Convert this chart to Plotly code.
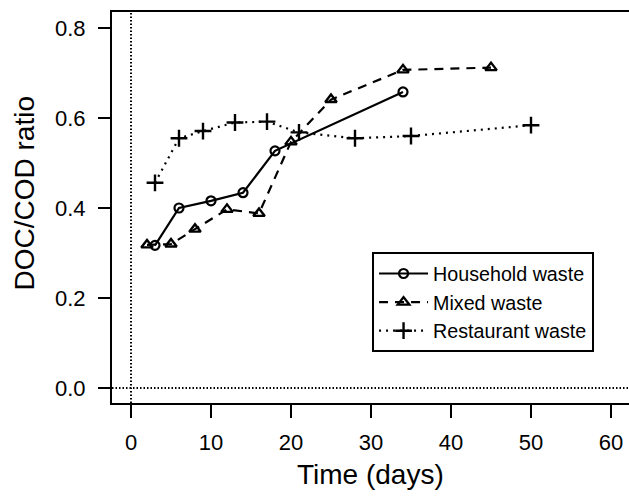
import plotly.graph_objects as go

# Data
house_days = [3, 6, 10, 14, 18, 34]
house_ratio = [0.317, 0.400, 0.416, 0.434, 0.527, 0.658]

mixed_days = [2, 5, 8, 12, 16, 20, 25, 34, 45]
mixed_ratio = [0.318, 0.320, 0.353, 0.397, 0.388, 0.547, 0.641, 0.707, 0.712]

rest_days = [3, 6, 9, 13, 17, 21, 28, 35, 50]
rest_ratio = [0.456, 0.555, 0.571, 0.590, 0.592, 0.568, 0.555, 0.560, 0.584]

x_ticks = [0, 10, 20, 30, 40, 50, 60]
y_ticks = [0.0, 0.2, 0.4, 0.6, 0.8]
y_ticklabels = ["0.0", "0.2", "0.4", "0.6", "0.8"]

FONT = "Liberation Sans, Arial, sans-serif"

fig = go.Figure()

fig.add_trace(go.Scatter(
    x=house_days, y=house_ratio, mode="lines+markers", name="Household waste",
    line=dict(color="black", width=2.2, dash="solid"),
    marker=dict(symbol="circle-open", size=9, color="black", line=dict(width=2.2)),
))
fig.add_trace(go.Scatter(
    x=mixed_days, y=mixed_ratio, mode="lines+markers", name="Mixed waste",
    line=dict(color="black", width=2.2, dash="9px,7px"),
    marker=dict(symbol="triangle-up-open", size=10, color="black", line=dict(width=2.4)),
))
fig.add_trace(go.Scatter(
    x=rest_days, y=rest_ratio, mode="lines+markers", name="Restaurant waste",
    line=dict(color="black", width=2.2, dash="2px,5px"),
    marker=dict(symbol="cross-thin-open", size=12, color="black", line=dict(width=2.4)),
))

# dotted reference lines at x=0 and y=0
fig.add_shape(type="line", xref="x", yref="y domain", x0=0, x1=0, y0=0, y1=1,
              line=dict(color="black", width=2, dash="1.5px,2px"), layer="below")
fig.add_shape(type="line", xref="x domain", yref="y", x0=0, x1=1, y0=0, y1=0,
              line=dict(color="black", width=2, dash="1.5px,2px"), layer="below")

fig.update_layout(
    width=629, height=498,
    margin=dict(l=112, r=0, t=12, b=95),
    paper_bgcolor="white", plot_bgcolor="white",
    font=dict(family=FONT, color="black"),
    showlegend=True,
    legend=dict(
        x=0.503, y=0.3857, xanchor="left", yanchor="top",
        bgcolor="white", bordercolor="black", borderwidth=2,
        font=dict(size=19.7, family=FONT, color="black"),
        itemwidth=49, tracegroupgap=0,
    ),
)

fig.update_xaxes(
    range=[-2.375, 62.25], tickvals=x_ticks,
    ticks="outside", ticklen=13, tickwidth=2, tickcolor="black",
    tickfont=dict(size=22, family=FONT, color="black"),
    ticklabelstandoff=6,
    showline=True, linecolor="black", linewidth=2, mirror=True,
    showgrid=False, zeroline=False,
)
fig.update_yaxes(
    range=[-0.0333, 0.8356], tickvals=y_ticks, ticktext=y_ticklabels,
    ticks="outside", ticklen=12, tickwidth=2, tickcolor="black",
    tickfont=dict(size=22, family=FONT, color="black"),
    ticklabelstandoff=8,
    showline=True, linecolor="black", linewidth=2, mirror=False,
    showgrid=False, zeroline=False,
)

fig.add_annotation(text="Time (days)", xref="paper", yref="paper",
                   x=0.5, y=-0.184, xanchor="center", yanchor="middle",
                   showarrow=False, font=dict(size=28, family=FONT, color="black"))
fig.add_annotation(text="DOC/COD ratio", xref="paper", yref="paper",
                   x=(25 - 112) / 517, y=0.5358, xanchor="center", yanchor="middle",
                   textangle=-90, showarrow=False,
                   font=dict(size=28, family=FONT, color="black"))

# remove the page's default body margin and scrollbars so the figure fills the window
fig.write_html(
    "out.html",
    config={"displayModeBar": False},
    post_script="document.body.style.margin='0px';"
                "document.body.style.overflow='hidden';"
                "document.documentElement.style.overflow='hidden';",
)
